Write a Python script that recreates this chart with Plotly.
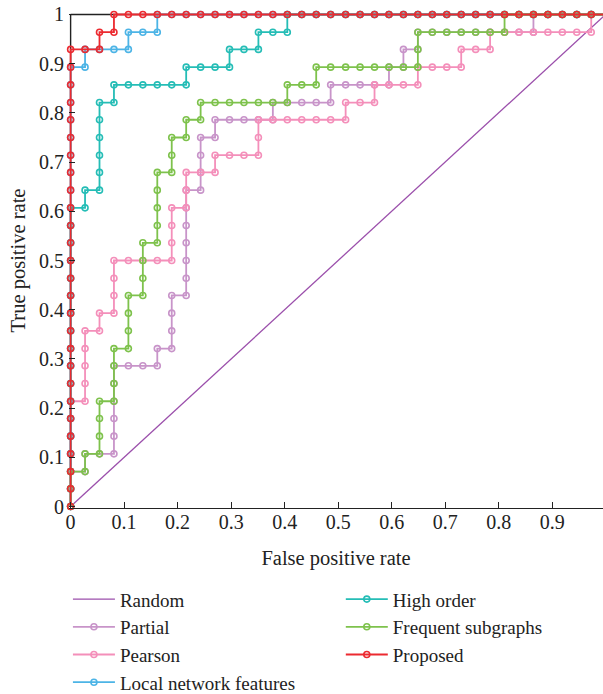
import plotly.graph_objects as go

# ---- data: ROC curve vertices (false positive rate, true positive rate) ----
RANDOM_PTS = [(0, 0), (1, 1)]

PARTIAL_PTS = [
    (0, 0), (0, .036), (0, .071), (.027, .071), (.027, .107), (.054, .107), (.081, .107),
    (.081, .143), (.081, .179), (.081, .214), (.081, .25), (.081, .286), (.108, .286),
    (.135, .286), (.162, .286), (.162, .321), (.189, .321), (.189, .357), (.189, .393),
    (.189, .429), (.216, .429), (.216, .464), (.216, .5), (.216, .536), (.216, .571),
    (.216, .607), (.216, .643), (.243, .643), (.243, .679), (.243, .714), (.243, .75),
    (.27, .75), (.27, .786), (.297, .786), (.324, .786), (.351, .786), (.378, .786),
    (.378, .821), (.405, .821), (.432, .821), (.459, .821), (.486, .821), (.486, .857),
    (.514, .857), (.541, .857), (.568, .857), (.595, .857), (.595, .893), (.622, .893),
    (.622, .929), (.649, .929), (.649, .964), (.676, .964), (.703, .964), (.73, .964),
    (.757, .964), (.784, .964), (.811, .964), (.838, .964), (.865, .964), (.865, 1),
    (.892, 1), (.919, 1), (.946, 1), (.973, 1), (1, 1)]

PEARSON_PTS = [
    (0, 0), (0, .036), (0, .071), (0, .107), (0, .143), (0, .179), (0, .214), (.027, .214),
    (.027, .25), (.027, .286), (.027, .321), (.027, .357), (.054, .357), (.054, .393),
    (.081, .393), (.081, .429), (.081, .464), (.081, .5), (.108, .5), (.135, .5), (.162, .5),
    (.189, .5), (.189, .536), (.189, .571), (.189, .607), (.216, .607), (.216, .643),
    (.216, .679), (.243, .679), (.27, .679), (.27, .714), (.297, .714), (.324, .714),
    (.351, .714), (.351, .75), (.351, .786), (.378, .786), (.405, .786), (.432, .786),
    (.459, .786), (.486, .786), (.514, .786), (.514, .821), (.541, .821), (.568, .821),
    (.568, .857), (.595, .857), (.622, .857), (.649, .857), (.649, .893), (.676, .893),
    (.703, .893), (.73, .893), (.73, .929), (.757, .929), (.784, .929), (.784, .964),
    (.811, .964), (.838, .964), (.865, .964), (.892, .964), (.919, .964), (.946, .964),
    (.973, .964), (.973, 1), (1, 1)]

LOCAL_PTS = [
    (0, 0), (0, .036), (0, .071), (0, .107), (0, .143), (0, .179), (0, .214), (0, .25),
    (0, .286), (0, .321), (0, .357), (0, .393), (0, .429), (0, .464), (0, .5), (0, .536),
    (0, .571), (0, .607), (0, .643), (0, .679), (0, .714), (0, .75), (0, .786), (0, .821),
    (0, .857), (0, .893), (.027, .893), (.027, .929), (.054, .929), (.081, .929),
    (.108, .929), (.108, .964), (.135, .964), (.162, .964), (.162, 1), (.189, 1), (.216, 1),
    (.243, 1), (.27, 1), (.297, 1), (.324, 1), (.351, 1), (.378, 1), (.405, 1), (.432, 1),
    (.459, 1), (.486, 1), (.514, 1), (.541, 1), (.568, 1), (.595, 1), (.622, 1), (.649, 1),
    (.676, 1), (.703, 1), (.73, 1), (.757, 1), (.784, 1), (.811, 1), (.838, 1), (.865, 1),
    (.892, 1), (.919, 1), (.946, 1), (.973, 1), (1, 1)]

HIGH_ORDER_PTS = [
    (0, 0), (0, .036), (0, .071), (0, .107), (0, .143), (0, .179), (0, .214), (0, .25),
    (0, .286), (0, .321), (0, .357), (0, .393), (0, .429), (0, .464), (0, .5), (0, .536),
    (0, .571), (0, .607), (.027, .607), (.027, .643), (.054, .643), (.054, .679),
    (.054, .714), (.054, .75), (.054, .786), (.054, .821), (.081, .821), (.081, .857),
    (.108, .857), (.135, .857), (.162, .857), (.189, .857), (.216, .857), (.216, .893),
    (.243, .893), (.27, .893), (.297, .893), (.297, .929), (.324, .929), (.351, .929),
    (.351, .964), (.378, .964), (.405, .964), (.405, 1), (.432, 1), (.459, 1), (.486, 1),
    (.514, 1), (.541, 1), (.568, 1), (.595, 1), (.622, 1), (.649, 1), (.676, 1), (.703, 1),
    (.73, 1), (.757, 1), (.784, 1), (.811, 1), (.838, 1), (.865, 1), (.892, 1), (.919, 1),
    (.946, 1), (.973, 1), (1, 1)]

FREQUENT_PTS = [
    (0, 0), (0, .036), (0, .071), (.027, .071), (.027, .107), (.054, .107), (.054, .143),
    (.054, .179), (.054, .214), (.081, .214), (.081, .25), (.081, .286), (.081, .321),
    (.108, .321), (.108, .357), (.108, .393), (.108, .429), (.135, .429), (.135, .464),
    (.135, .5), (.135, .536), (.162, .536), (.162, .571), (.162, .607), (.162, .643),
    (.162, .679), (.189, .679), (.189, .714), (.189, .75), (.216, .75), (.216, .786),
    (.243, .786), (.243, .821), (.27, .821), (.297, .821), (.324, .821), (.351, .821),
    (.378, .821), (.405, .821), (.405, .857), (.432, .857), (.459, .857), (.459, .893),
    (.486, .893), (.514, .893), (.541, .893), (.568, .893), (.595, .893), (.622, .893),
    (.649, .893), (.649, .929), (.649, .964), (.676, .964), (.703, .964), (.73, .964),
    (.757, .964), (.784, .964), (.811, .964), (.811, 1), (.838, 1), (.865, 1), (.892, 1),
    (.919, 1), (.946, 1), (.973, 1), (1, 1)]

PROPOSED_PTS = [
    (0, 0), (0, .036), (0, .071), (0, .107), (0, .143), (0, .179), (0, .214), (0, .25),
    (0, .286), (0, .321), (0, .357), (0, .393), (0, .429), (0, .464), (0, .5), (0, .536),
    (0, .571), (0, .607), (0, .643), (0, .679), (0, .714), (0, .75), (0, .786), (0, .821),
    (0, .857), (0, .893), (0, .929), (.027, .929), (.054, .929), (.054, .964), (.081, .964),
    (.081, 1), (.108, 1), (.135, 1), (.162, 1), (.189, 1), (.216, 1), (.243, 1), (.27, 1),
    (.297, 1), (.324, 1), (.351, 1), (.378, 1), (.405, 1), (.432, 1), (.459, 1), (.486, 1),
    (.514, 1), (.541, 1), (.568, 1), (.595, 1), (.622, 1), (.649, 1), (.676, 1), (.703, 1),
    (.73, 1), (.757, 1), (.784, 1), (.811, 1), (.838, 1), (.865, 1), (.892, 1), (.919, 1),
    (.946, 1), (.973, 1), (1, 1)]

SERIES = [
    # name, points, color, legend, legend rank, markers
    ("Random", RANDOM_PTS, "#9b4fab", "legend", 1, False),
    ("Partial", PARTIAL_PTS, "#c894c9", "legend", 2, True),
    ("Pearson", PEARSON_PTS, "#f48fba", "legend", 3, True),
    ("Local network features", LOCAL_PTS, "#4cb4e6", "legend", 4, True),
    ("High order", HIGH_ORDER_PTS, "#25bdb6", "legend2", 5, True),
    ("Frequent subgraphs", FREQUENT_PTS, "#7ec24c", "legend2", 6, True),
    ("Proposed", PROPOSED_PTS, "#ec2a30", "legend2", 7, True),
]

FONT = "Liberation Serif"
INK = "#222"

fig = go.Figure()
for name, pts, color, leg, rank, mk in SERIES:
    xs = [p[0] for p in pts]
    ys = [p[1] for p in pts]
    if mk:
        fig.add_trace(go.Scatter(
            x=xs, y=ys, name=name, mode="lines+markers", legend=leg, legendrank=rank,
            line=dict(color=color, width=1.8),
            marker=dict(symbol="circle-open", size=6, color=color, line=dict(width=1.6, color=color)),
            cliponaxis=False))
    else:
        fig.add_trace(go.Scatter(
            x=xs, y=ys, name=name, mode="lines", legend=leg, legendrank=rank,
            line=dict(color=color, width=1.3), cliponaxis=False))

# frame lines on the left and top edges, drawn beneath the curves
fig.add_shape(type="line", xref="x", yref="y", x0=0, x1=0, y0=0, y1=1,
              line=dict(color=INK, width=1.4), layer="below")
fig.add_shape(type="line", xref="x", yref="y", x0=0, x1=1, y0=1, y1=1,
              line=dict(color=INK, width=1.4), layer="below")

tick_common = dict(showgrid=False, zeroline=False, ticks="inside", ticklen=6, tickwidth=1.2,
                   tickcolor=INK, tickfont=dict(family=FONT, size=20, color=INK))

legend_common = dict(xanchor="left", y=-0.146, yanchor="top", orientation="v",
                     font=dict(family=FONT, size=19, color=INK), bgcolor="rgba(0,0,0,0)",
                     tracegroupgap=0, itemwidth=42)

fig.update_layout(
    width=603, height=694,
    margin=dict(l=69, r=0, t=13, b=186, pad=0, autoexpand=False),
    plot_bgcolor="white", paper_bgcolor="white",
    font=dict(family=FONT, size=20, color=INK),
    xaxis=dict(range=[-0.003, 0.995], dtick=0.1, showline=True, linecolor=INK, linewidth=1.4,
               ticklabelstandoff=-4,
               title=dict(text="False positive rate", font=dict(family=FONT, size=20.5), standoff=18),
               **tick_common),
    yaxis=dict(range=[-0.003, 1.003], dtick=0.1, showline=False, ticklabelstandoff=4,
               title=dict(text="True positive rate", font=dict(family=FONT, size=20.5), standoff=7),
               **tick_common),
    legend=dict(x=-0.002, **legend_common),
    legend2=dict(x=0.509, **legend_common),
)

fig.write_html("out.html")
